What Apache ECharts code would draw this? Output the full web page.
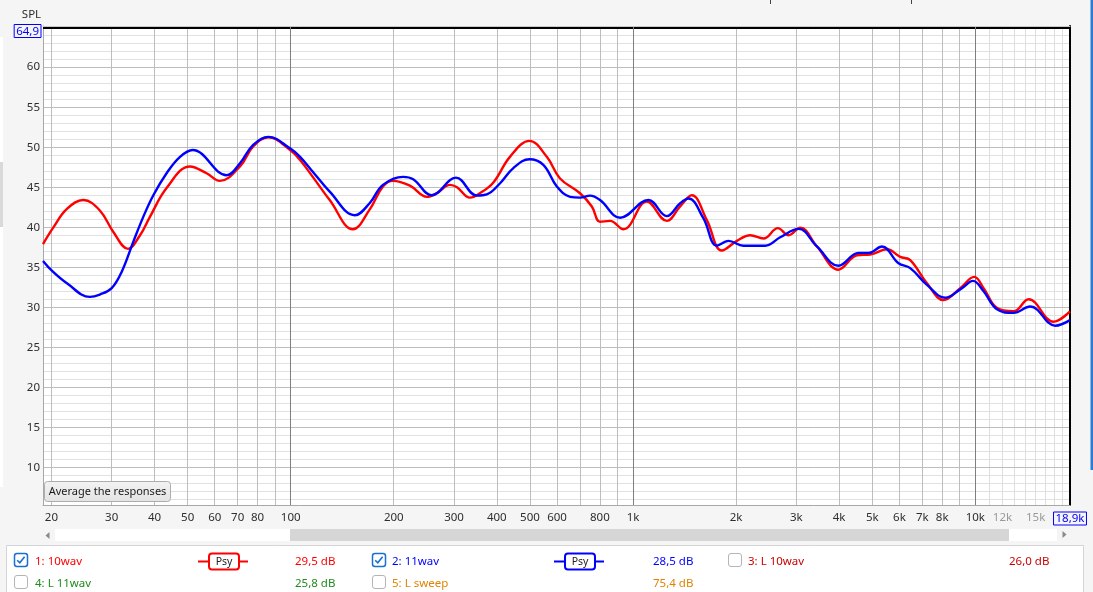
<!DOCTYPE html>
<html><head><meta charset="utf-8">
<script src="https://cdn.jsdelivr.net/npm/echarts@6/dist/echarts.min.js"></script>
<style>html,body{margin:0;padding:0;background:#f5f5f5;overflow:hidden}#c{width:1093px;height:592px}</style>
</head><body><div id="c"></div>
<script>
// ---------- data ----------
const xTickLabels = [20,30,40,50,60,70,80,100,200,300,400,500,600,800,1000,2000,3000,4000,5000,6000,7000,8000,10000,12000,15000,18900];
const yTickLabels = [10,15,20,25,30,35,40,45,50,55,60];
const yTopLabel = [64.9];

const redFreq = [18.9,20.2,22.2,24.8,27.7,30.3,33.5,36.3,38.8,43.4,50.8,56.8,62.1,71.1,77.7,86,100,106.5,116,130,152,170,186,199,223,250,267,292,306,334,357,391,437,498,560,612,700,758,801,857,937,1097,1255,1373,1485,1643,1818,2011,2199,2405,2649,2846,3079,3445,3983,4508,4931,5518,6034,6453,7222,8075,9034,9926,10570,11570,12930,14310,16920,18900];
const redSpl = [37.9,39.9,42.3,43.4,42.1,39.45,37.3,39.0,41.3,44.9,47.6,46.75,45.8,47.6,50.1,51.25,49.6,48.4,46.3,43.4,39.75,42.2,45.1,45.8,45.2,43.8,44.25,45.3,45.0,43.7,44.25,45.6,48.8,50.8,48.8,46.1,44.25,42.6,40.7,40.8,39.75,43.2,40.8,42.6,44.0,40.9,37.1,38.3,39.0,38.6,39.9,39.0,39.95,37.6,34.7,36.5,36.6,37.25,36.3,35.9,33.0,30.9,32.4,33.8,32.4,29.9,29.5,31.0,28.2,29.5];

const blueFreq = [18.9,20.2,22.2,25.9,27.7,30.0,32.1,34.7,37.1,39.7,43.4,47.5,51.7,65.0,71.1,77.7,86,100,106.5,116,130,154,170,186,213,228,258,304,350,374,409,447,498,547,599,655,700,749,801,917,1109,1255,1373,1452,1606,1758,1900,2102,2432,2691,3044,3445,3983,4557,4875,5335,5965,6453,7222,8166,9140,9840,10570,11570,12930,14470,17120,18900];
const blueSpl = [35.8,34.45,33.0,31.3,31.6,32.4,34.45,38.2,41.3,44.0,46.75,48.8,49.66,46.5,48.0,50.3,51.3,49.8,48.8,46.95,44.45,41.5,43.0,45.3,46.3,46.0,44.0,46.2,43.95,44.1,45.5,47.4,48.5,47.8,45.1,43.8,43.7,43.95,43.4,41.2,43.4,41.4,43.0,43.6,41.1,37.7,38.3,37.7,37.7,38.75,39.8,37.6,35.2,36.8,36.8,37.6,35.5,34.9,32.8,31.2,32.4,33.3,32.0,29.75,29.3,30.1,27.7,28.4];

const legendLabels  = ['1: 10wav','2: 11wav','3: L 10wav','4: L 11wav','5: L sweep'];
const legendValues  = ['29,5 dB','28,5 dB','26,0 dB','25,8 dB','75,4 dB'];
const legendColors  = ['#ff0000','#0000ff','#cc0000','#1e8c1e','#e08400'];
const legendChecked = [true,true,false,false,false];
const legendPsy     = [true,true,false,false,false];

// ---------- grid line positions ----------
const decadeLines = [100,1000,10000];
const regularLines = [];
[10,100,1000].forEach(d => { for (let m = 2; m <= 9; m++) regularLines.push(m*d); });
const fineLines = [];
for (let k = 11; k <= 18; k++) fineLines.push(k*1000);
const minorY = [];
for (let v = 6; v <= 64; v++) if (v % 5 !== 0) minorY.push(v);

const X_MIN = 18.9, X_MAX = 18900, Y_MIN = 5.3, Y_MAX = 65.15;
const FONT = '"Noto Sans", "Open Sans", sans-serif';
const TXT = '#2e2e2e';

function fmtFreq(v) {
  v = Math.round(v);
  if (v === 18900) return '{b|18,9k}';
  const s = v >= 1000 ? String(v/1000).replace('.', ',') + 'k' : String(v);
  if (v > 10000) return '{g|' + s + '}';
  return '{n|' + s + '}';
}

function xAx(o) {
  return Object.assign({
    type: 'log', logBase: 10, min: X_MIN, max: X_MAX, gridIndex: 0, position: 'bottom',
    axisLine: {show: false, onZero: false}, axisTick: {show: false}, axisLabel: {show: false},
    splitLine: {show: false}, minorTick: {show: false}, minorSplitLine: {show: false}
  }, o);
}
function yAx(o) {
  return Object.assign({
    type: 'value', min: Y_MIN, max: Y_MAX, gridIndex: 0, position: 'left',
    axisLine: {show: false, onZero: false}, axisTick: {show: false}, axisLabel: {show: false},
    splitLine: {show: false}, minorTick: {show: false}, minorSplitLine: {show: false}
  }, o);
}

const chart = echarts.init(document.getElementById('c'), null, {renderer: 'canvas', width: 1093, height: 592});

// ---------- graphics (window chrome, button, legend panel) ----------
const g = [];
g.push({type:'rect', shape:{x:0,y:37,width:3,height:450}, style:{fill:'#ffffff'}, silent:true});
g.push({type:'rect', shape:{x:0,y:162,width:3,height:65}, style:{fill:'#d9d9d9'}, silent:true});
g.push({type:'rect', shape:{x:1090.5,y:0,width:2.5,height:470}, style:{fill:'#2b7cd3'}, silent:true});
g.push({type:'line', shape:{x1:770.5,y1:0,x2:770.5,y2:4}, style:{stroke:'#444',lineWidth:1}, silent:true});
g.push({type:'line', shape:{x1:911.5,y1:0,x2:911.5,y2:4}, style:{stroke:'#444',lineWidth:1}, silent:true});
g.push({type:'text', x:31.5, y:14.5, style:{text:'SPL', fontSize:11.5, fontFamily:FONT, fill:TXT, align:'center', verticalAlign:'middle'}, silent:true, z:10});
// button
g.push({type:'rect', shape:{x:44.5,y:481.5,width:126,height:20,r:3}, z:10, silent:true,
  style:{fill:new echarts.graphic.LinearGradient(0,0,0,1,[{offset:0,color:'#f3f3f3'},{offset:1,color:'#e3e3e3'}]), stroke:'#adadad', lineWidth:1}});
g.push({type:'text', x:107.5, y:491.5, z:11, silent:true, style:{text:'Average the responses', fontSize:11, fontFamily:FONT, fill:'#1a1a1a', align:'center', verticalAlign:'middle'}});
// scrollbar
g.push({type:'rect', shape:{x:55,y:529,width:235,height:12}, style:{fill:'#ffffff'}, silent:true});
g.push({type:'rect', shape:{x:290,y:529,width:719,height:12}, style:{fill:'#d6d6d6'}, silent:true});
g.push({type:'rect', shape:{x:1009,y:529,width:48,height:12}, style:{fill:'#ffffff'}, silent:true});
g.push({type:'polygon', shape:{points:[[45.5,535.5],[49.5,532],[49.5,539]]}, style:{fill:'#8a8a8a'}, silent:true});
g.push({type:'polygon', shape:{points:[[1066.5,534.5],[1062.5,531],[1062.5,538]]}, style:{fill:'#8a8a8a'}, silent:true});
// legend panel
g.push({type:'rect', shape:{x:6.5,y:545.5,width:1077,height:60}, style:{fill:'#ffffff', stroke:'#d4d4d4', lineWidth:1}, silent:true});
const colCheckX = [14, 372, 728], colTextX = [35, 392, 748], colValX = [295, 653, 1009], colPsyX = [224, 580, 0];
const rowTextY = [561.5, 583.5], rowBoxY = [553, 575];
legendLabels.forEach((lab, i) => {
  const col = i % 3, row = Math.floor(i / 3);
  const bx = colCheckX[col], by = rowBoxY[row];
  if (legendChecked[i]) {
    g.push({type:'rect', shape:{x:bx+0.5,y:by+0.5,width:13,height:13,r:2.5}, style:{fill:'#ffffff', stroke:'#1a6fd1', lineWidth:1.5}, silent:true});
    g.push({type:'polyline', shape:{points:[[bx+3.2,by+7.2],[bx+5.8,by+9.8],[bx+10.6,by+3.8]]}, style:{stroke:'#1a6fd1', lineWidth:1.6, fill:null}, silent:true});
  } else {
    g.push({type:'rect', shape:{x:bx+0.5,y:by+0.5,width:13,height:13,r:2.5}, style:{fill:'#ffffff', stroke:'#b5b5b5', lineWidth:1}, silent:true});
  }
  const ty = rowTextY[row];
  g.push({type:'text', x:colTextX[col], y:ty, style:{text:lab, fontSize:11.5, fontFamily:FONT, fill:legendColors[i], align:'left', verticalAlign:'middle'}, silent:true});
  g.push({type:'text', x:colValX[col], y:ty, style:{text:legendValues[i], fontSize:11.5, fontFamily:FONT, fill:legendColors[i], align:'left', verticalAlign:'middle'}, silent:true});
  if (legendPsy[i]) {
    const cx = colPsyX[col];
    g.push({type:'line', shape:{x1:cx-26,y1:ty,x2:cx+24,y2:ty}, style:{stroke:legendColors[i], lineWidth:2}, silent:true});
    g.push({type:'rect', shape:{x:cx-15,y:ty-8,width:30,height:16,r:3}, style:{fill:'#ffffff', stroke:legendColors[i], lineWidth:2}, silent:true});
    g.push({type:'text', x:cx, y:ty+0.5, style:{text:'Psy', fontSize:10.5, fontFamily:FONT, fill:'#222', align:'center', verticalAlign:'middle'}, silent:true});
  }
});

const labelRich = {
  n: {color: TXT, fontSize: 11.5, fontFamily: FONT},
  g: {color: '#9a9a9a', fontSize: 11.5, fontFamily: FONT},
  b: {color: '#0000ff', fontSize: 11.5, fontFamily: FONT, borderColor: '#0000ff', borderWidth: 1, padding: [1, 2, 0, 2], lineHeight: 13},
  s: {lineHeight: 6, fontSize: 6},
  t: {color: '#0000ff', fontSize: 11.5, fontFamily: FONT, borderColor: '#0000ff', borderWidth: 1, padding: [1, 2, 0, 2], lineHeight: 11}
};

const option = {
  backgroundColor: '#f5f5f5',
  animation: false,
  grid: {left: 43, right: 23, top: 26, bottom: 87, show: true, backgroundColor: '#ffffff', borderWidth: 0, z: 0},
  xAxis: [
    xAx({z: 4, axisLine: {show: true, onZero: false, lineStyle: {color: '#a8a8a8', width: 1}},
         axisTick: {show: false, customValues: decadeLines},
         splitLine: {show: true, lineStyle: {color: '#7f7f7f', width: 1}},
         axisLabel: {show: true, customValues: xTickLabels, formatter: fmtFreq, margin: 7, rich: labelRich, fontSize: 11.5, fontFamily: FONT, color: TXT}}),
    xAx({z: 2, axisTick: {show: false, customValues: regularLines}, splitLine: {show: true, lineStyle: {color: '#bdbdbd', width: 1}}}),
    xAx({z: 1, axisTick: {show: false, customValues: fineLines}, splitLine: {show: true, lineStyle: {color: '#dedede', width: 1}}}),
    xAx({z: 4, position: 'top', axisLine: {show: true, onZero: false, lineStyle: {color: '#c8c8c8', width: 1}}})
  ],
  yAxis: [
    yAx({z: 2, axisLine: {show: true, onZero: false, lineStyle: {color: '#a8a8a8', width: 1}},
         axisTick: {show: false, customValues: yTickLabels},
         splitLine: {show: true, lineStyle: {color: '#bdbdbd', width: 1}},
         axisLabel: {show: true, customValues: yTickLabels, margin: 3, fontSize: 11.5, fontFamily: FONT, color: TXT}}),
    yAx({z: 1, axisTick: {show: false, customValues: minorY}, splitLine: {show: true, lineStyle: {color: '#e1e1e1', width: 1}}}),
    yAx({z: 4, axisTick: {show: false, customValues: yTopLabel}, splitLine: {show: true, lineStyle: {color: '#000000', width: 2}},
         axisLabel: {show: true, customValues: yTopLabel, margin: 2, formatter: v => '{s| }\n{t|' + String(v).replace('.', ',') + '}', rich: labelRich}}),
    yAx({z: 4, position: 'right', axisLine: {show: true, onZero: false, lineStyle: {color: '#000000', width: 2}}})
  ],
  series: [
    {type: 'line', name: '1: 10wav', xAxisIndex: 0, yAxisIndex: 0, z: 6, showSymbol: false, smooth: 0.4, silent: true,
     lineStyle: {color: '#ff0000', width: 2.4}, itemStyle: {color: '#ff0000'},
     data: redFreq.map((f, i) => [f, redSpl[i]])},
    {type: 'line', name: '2: 11wav', xAxisIndex: 0, yAxisIndex: 0, z: 7, showSymbol: false, smooth: 0.4, silent: true,
     lineStyle: {color: '#0000ff', width: 2.4}, itemStyle: {color: '#0000ff'},
     data: blueFreq.map((f, i) => [f, blueSpl[i]])}
  ],
  graphic: {elements: g}
};
chart.setOption(option);
</script>
</body></html>
